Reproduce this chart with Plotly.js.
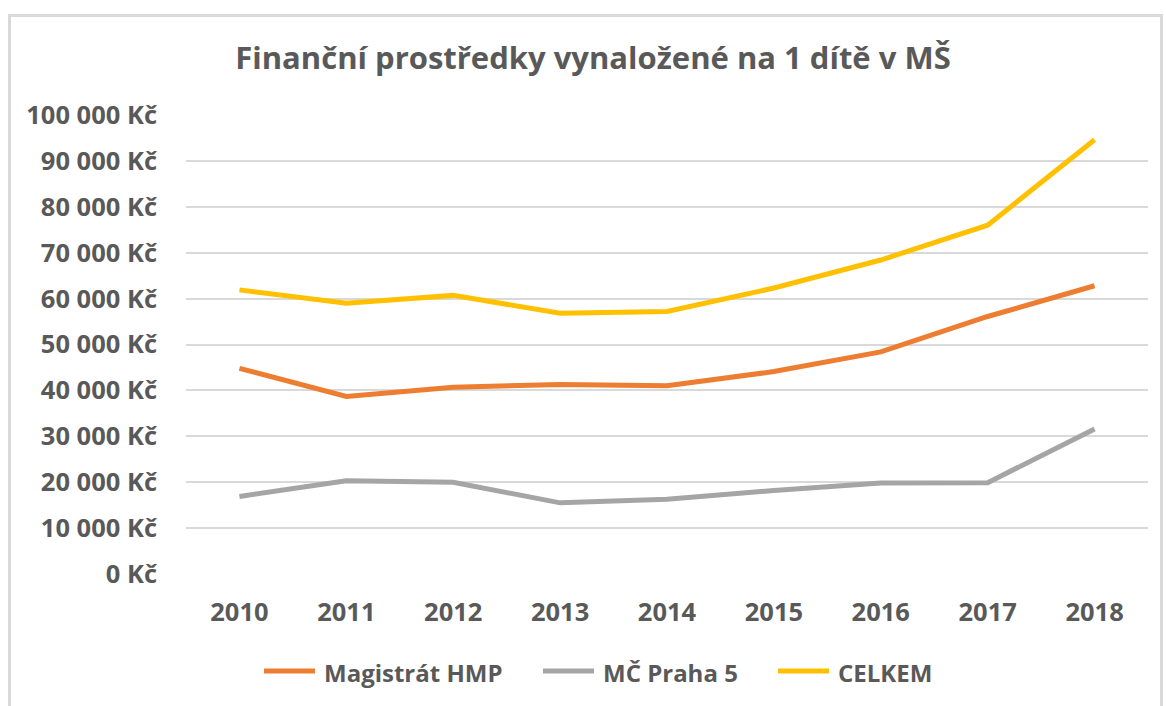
<!DOCTYPE html>
<html>
<head>
<meta charset="utf-8">
<script src="https://cdn.plot.ly/plotly-3.0.1.min.js"></script>
<style>
  html, body { margin: 0; padding: 0; background: #ffffff; }
  #wrap { position: relative; width: 1166px; height: 706px; overflow: hidden; }
  #chart { position: absolute; left: 0; top: 0; width: 1166px; height: 706px; }
  #frame { position: absolute; left: 8px; top: 14px; width: 1155px; height: 700px;
           border: 3px solid #d9d9d9; pointer-events: none; box-sizing: border-box; }
</style>
</head>
<body>
<div id="wrap">
  <div id="chart"></div>
  <div id="frame"></div>
</div>
<script>
const years = ['2010', '2011', '2012', '2013', '2014', '2015', '2016', '2017', '2018'];
const magistrat = [44800, 38700, 40700, 41300, 41000, 44100, 48400, 56100, 62800];
const mcPraha5 = [16900, 20300, 20000, 15500, 16300, 18200, 19800, 19900, 31600];
const celkem = [61900, 59000, 60700, 56800, 57200, 62300, 68400, 76000, 94600];
const yTickVals = [0, 10000, 20000, 30000, 40000, 50000, 60000, 70000, 80000, 90000, 100000];
const yTickText = ['0 Kč', '10 000 Kč', '20 000 Kč', '30 000 Kč', '40 000 Kč', '50 000 Kč',
                   '60 000 Kč', '70 000 Kč', '80 000 Kč', '90 000 Kč', '100 000 Kč'];
const seriesNames = ['Magistrát HMP', 'MČ Praha 5', 'CELKEM'];
const seriesColors = ['#ED7D31', '#A5A5A5', '#FFC000'];
const titleText = 'Finanční prostředky vynaložené na 1 dítě v MŠ';

const FONT = '"Open Sans", "DejaVu Sans", sans-serif';
const TXT = '#595959';

// plot area geometry (px)
const W = 1166, H = 706;
const M = { l: 186, r: 18, t: 115, b: 132 };
const PW = W - M.l - M.r, PH = H - M.t - M.b;
const px2x = p => (p - M.l) / PW;
const py2y = p => (H - M.b - p) / PH;

const seriesValues = [magistrat, mcPraha5, celkem];
const data = seriesNames.map((name, i) => ({
  type: 'scatter', mode: 'lines', name: name, x: years, y: seriesValues[i],
  line: { color: seriesColors[i], width: 5, shape: 'linear' },
  hoverinfo: 'x+y+name', showlegend: false
}));

// custom legend (long line symbols like the original)
const legendSymbolStart = [262, 541, 776];
const legendRowY = 671;
const shapes = [], annotations = [];
seriesNames.forEach((name, i) => {
  const s = legendSymbolStart[i];
  shapes.push({
    type: 'line', xref: 'paper', yref: 'paper',
    x0: px2x(s + 2), x1: px2x(s + 53), y0: py2y(legendRowY), y1: py2y(legendRowY),
    line: { color: seriesColors[i], width: 5 }
  });
  annotations.push({
    text: '<b>' + name + '</b>', xref: 'paper', yref: 'paper',
    x: px2x(s + 60), y: py2y(legendRowY + 1), xanchor: 'left', yanchor: 'middle',
    showarrow: false, font: { family: FONT, size: 24, color: TXT }
  });
});

const layout = {
  width: W, height: H,
  paper_bgcolor: '#ffffff', plot_bgcolor: '#ffffff',
  margin: M,
  title: {
    text: '<b>' + titleText + '</b>',
    font: { family: FONT, size: 31, color: TXT },
    x: 593 / W, xanchor: 'center', xref: 'container',
    y: 0.918, yanchor: 'middle', yref: 'container'
  },
  showlegend: false,
  shapes: shapes,
  annotations: annotations,
  xaxis: {
    type: 'category', range: [-0.5, 8.5], showgrid: false, zeroline: false, showline: false,
    ticks: '', tickfont: { family: FONT, size: 25.5, color: TXT, weight: 'bold' },
    ticklabelstandoff: 20
  },
  yaxis: {
    range: [0, 100000], tickmode: 'array', tickvals: yTickVals, ticktext: yTickText,
    showgrid: true, gridcolor: '#d9d9d9', gridwidth: 1.5,
    zeroline: false, showline: false, ticks: '',
    tickfont: { family: FONT, size: 25.5, color: TXT, weight: 'bold' },
    ticklabelstandoff: 28
  }
};

Plotly.newPlot('chart', data, layout, { displayModeBar: false, responsive: false });
</script>
</body>
</html>
